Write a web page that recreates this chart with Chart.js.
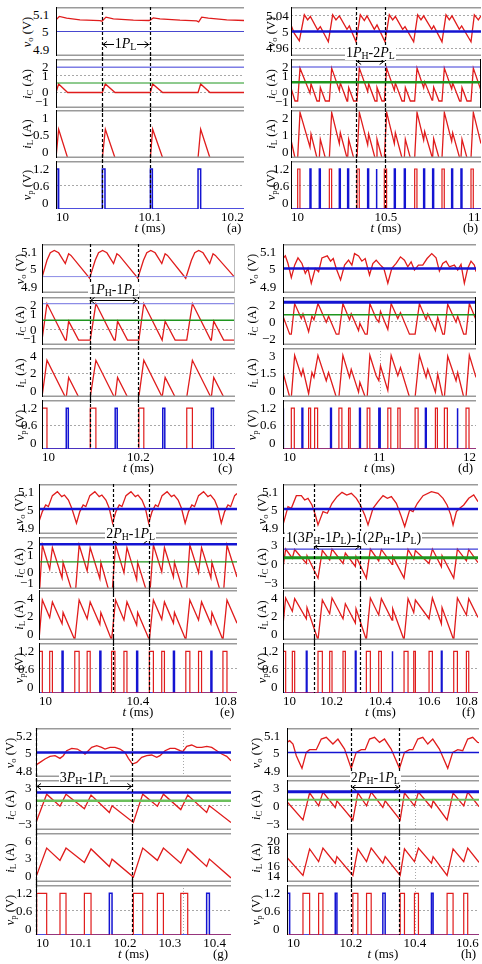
<!DOCTYPE html>
<html><head><meta charset="utf-8">
<script src="https://cdn.jsdelivr.net/npm/chart.js@4.4.1/dist/chart.umd.min.js"></script>
<style>
html,body{margin:0;padding:0;background:#fff;}
body{width:482px;height:964px;position:relative;overflow:hidden;font-family:"Liberation Serif","DejaVu Serif",serif;color:#000;}
canvas{position:absolute;}
.tk{position:absolute;font-size:13px;line-height:13px;white-space:nowrap;}
.ttl{position:absolute;font-size:12.5px;line-height:13px;white-space:nowrap;transform:translate(-50%,-50%) rotate(-90deg);}
.ann{position:absolute;font-size:14px;line-height:14px;white-space:nowrap;background:#fff;padding:0 1px;}
sub{font-size:70%;vertical-align:-0.25em;line-height:0;}
</style></head><body>
<script>
// ---------------- DATA ----------------
// (a)
const a_t_range=[10,10.2], a_t_ticks=[10,10.1,10.2], a_marks=[10.0489,10.0996];
const a_vo_range=[4.9,5.1], a_vo_ticks=[4.9,5,5.1], a_vo_ref=[5];
const a_vo=[[10,5.0475],[10.0035,5.0613],[10.0113,5.0544],[10.0255,5.0475],[10.0468,5.0448],[10.0489,5.042],[10.0532,5.0586],[10.061,5.0517],[10.0823,5.0462],[10.0989,5.0448],[10.1007,5.0475],[10.1035,5.0558],[10.1106,5.0517],[10.1319,5.0462],[10.1496,5.0434],[10.1518,5.0393],[10.155,5.0586],[10.1621,5.0544],[10.1816,5.0475],[10.2,5.0448]];
const a_iC_range=[-1,2], a_iC_ticks=[-1,0,1,2], a_iC_grid=[0,1], a_iC_ref=[1.5,0.53];
const a_iC=[[10,-0.05],[10.0028,0.47],[10.0124,-0.05],[10.0493,-0.05],[10.0525,0.47],[10.0628,-0.05],[10.1004,-0.05],[10.1028,0.47],[10.1135,-0.05],[10.1511,-0.05],[10.1539,0.47],[10.1638,-0.05],[10.2,-0.05]];
const a_iL_range=[0,1], a_iL_ticks=[0,0.5,1];
const a_iL=[[10,0],[10.0028,0.6],[10.0124,0],[10.0493,0],[10.0525,0.6],[10.0628,0],[10.1004,0],[10.1028,0.6],[10.1135,0],[10.1511,0],[10.1539,0.6],[10.1638,0],[10.2,0]];
const a_vpRed=[], a_vpBlue=[[10.0007,10.0028],[10.0493,10.0521],[10.1004,10.1025],[10.1511,10.1539]];

// (b)
const b_t_range=[10,11], b_t_ticks=[10,10.5,11], b_marks=[10.343,10.493];
const b_vo_range=[4.94,5.06], b_vo_ticks=[4.96,5,5.04], b_vo_grid=[4.96,5.04], b_vo_ref=[5];
const b_vo=[[10,5.0161],[10.0175,4.9954],[10.0439,4.9772],[10.0702,5.0409],[10.0877,5.0285],[10.1018,5.0367],[10.1404,5.0037],[10.1544,5.0119],[10.1965,4.9747],[10.2193,5.0409],[10.2368,5.0285],[10.2544,5.0384],[10.2947,5.0053],[10.307,5.0136],[10.3421,4.9747],[10.3649,5.0409],[10.386,5.0268],[10.4,5.0384],[10.4386,5.0053],[10.4526,5.0161],[10.4947,4.9747],[10.5175,5.0409],[10.5351,5.0285],[10.5491,5.0367],[10.5877,5.0053],[10.6,5.0119],[10.6456,4.9747],[10.6667,5.0409],[10.6842,5.0285],[10.6982,5.0384],[10.7404,5.0053],[10.7509,5.0136],[10.7947,4.9747],[10.8158,5.0409],[10.8333,5.0285],[10.8474,5.0384],[10.886,5.0053],[10.8982,5.0136],[10.9474,4.9747],[10.9649,5.0409],[10.986,5.0285],[11,5.0384]];
const b_iC_range=[-1,2], b_iC_ticks=[-1,0,1,2], b_iC_grid=[0,1], b_iC_ref=[1.51,0.58];
const b_iC=[[10,0.23],[10.0211,-0.57],[10.0351,-0.57],[10.0474,1.44],[10.1,-0.09],[10.1053,0.49],[10.1368,-0.57],[10.1491,-0.57],[10.1544,0.26],[10.1807,-0.57],[10.2018,-0.57],[10.214,1.44],[10.2544,0.07],[10.2596,0.54],[10.2947,-0.57],[10.2982,-0.57],[10.3035,0.26],[10.3298,-0.57],[10.3474,-0.57],[10.3596,1.44],[10.4035,0.01],[10.4088,0.49],[10.4421,-0.57],[10.4474,-0.57],[10.4526,0.26],[10.4789,-0.57],[10.4912,-0.57],[10.5035,1.44],[10.5439,0.07],[10.5491,0.54],[10.5842,-0.57],[10.5965,-0.57],[10.6018,0.26],[10.6281,-0.57],[10.6509,-0.57],[10.6632,1.44],[10.6982,0.23],[10.7035,0.6],[10.7421,-0.52],[10.7456,-0.52],[10.7509,0.28],[10.7789,-0.57],[10.7947,-0.57],[10.807,1.44],[10.8456,0.17],[10.8509,0.54],[10.8877,-0.57],[10.8947,-0.57],[10.9,0.26],[10.9263,-0.57],[10.9474,-0.57],[10.9596,1.44],[11,0.07]];
const b_iL_range=[0,2], b_iL_ticks=[0,1,2], b_iL_grid=[1];
const b_iL=[[10,0.75],[10.0211,0],[10.0351,0],[10.0474,1.9],[10.1,0.45],[10.1053,1.0],[10.1368,0],[10.1491,0],[10.1544,0.78],[10.1807,0],[10.2018,0],[10.214,1.9],[10.2544,0.6],[10.2596,1.05],[10.2947,0],[10.2982,0],[10.3035,0.78],[10.3298,0],[10.3474,0],[10.3596,1.9],[10.4035,0.55],[10.4088,1.0],[10.4421,0],[10.4474,0],[10.4526,0.78],[10.4789,0],[10.4912,0],[10.5035,1.9],[10.5439,0.6],[10.5491,1.05],[10.5842,0],[10.5965,0],[10.6018,0.78],[10.6281,0],[10.6509,0],[10.6632,1.9],[10.6982,0.75],[10.7035,1.1],[10.7421,0.05],[10.7456,0.05],[10.7509,0.8],[10.7789,0],[10.7947,0],[10.807,1.9],[10.8456,0.7],[10.8509,1.05],[10.8877,0],[10.8947,0],[10.9,0.78],[10.9263,0],[10.9474,0],[10.9596,1.9],[11,0.6]];
const b_vpRed=[[10.0351,10.0471],[10.2018,10.2138],[10.3474,10.3594],[10.4912,10.5032],[10.6509,10.6629],[10.7947,10.8067],[10.9474,10.9594]];
const b_vpBlue=[[10.1,10.105],[10.1491,10.1541],[10.2544,10.2594],[10.2982,10.3032],[10.4035,10.4085],[10.4474,10.4524],[10.5439,10.5489],[10.5965,10.6015],[10.6982,10.7032],[10.7456,10.7506],[10.8456,10.8506],[10.8947,10.8997]];

// (c)
const c_t_range=[10,10.4], c_t_ticks=[10,10.2,10.4], c_marks=[10.0986,10.1986];
const c_vo_range=[4.9,5.1], c_vo_ticks=[4.9,5,5.1], c_vo_ref=[4.967];
const c_vo=[[10,4.9628],[10.0103,5.0335],[10.0172,5.0641],[10.0255,5.0735],[10.0345,5.0641],[10.0483,5.0201],[10.0552,5.0601],[10.06,5.0535],[10.0986,4.9601],[10.1103,5.0335],[10.1172,5.0641],[10.1255,5.0735],[10.1345,5.0641],[10.1483,5.0201],[10.1552,5.0601],[10.16,5.0535],[10.1986,4.9601],[10.2103,5.0335],[10.2172,5.0641],[10.2255,5.0735],[10.2345,5.0641],[10.2483,5.0201],[10.2552,5.0601],[10.26,5.0535],[10.2979,4.9601],[10.3097,5.0335],[10.3166,5.0641],[10.3248,5.0735],[10.3338,5.0641],[10.3476,5.0201],[10.3545,5.0601],[10.3593,5.0535],[10.4,4.9628]];
const c_iC_range=[-1,2], c_iC_ticks=[-1,0,1,2], c_iC_grid=[0], c_iC_ref=[1.59,0.55];
const c_iC=[[10,-0.69],[10.0103,1.59],[10.0483,-0.69],[10.0503,-0.69],[10.0552,0.49],[10.0759,-0.69],[10.1,-0.69],[10.1117,1.59],[10.1497,-0.69],[10.1517,-0.69],[10.1566,0.49],[10.1772,-0.69],[10.2007,-0.69],[10.211,1.59],[10.249,-0.69],[10.2503,-0.69],[10.2552,0.49],[10.2759,-0.69],[10.3,-0.69],[10.3117,1.59],[10.3497,-0.69],[10.351,-0.69],[10.3559,0.49],[10.3766,-0.69],[10.4,-0.69]];
const c_iL_range=[0,4], c_iL_ticks=[0,2,4], c_iL_grid=[2];
const c_iL=[[10,0],[10.0103,3.0],[10.0483,0],[10.0503,0],[10.0552,1.6],[10.0759,0],[10.1,0],[10.1117,3.0],[10.1497,0],[10.1517,0],[10.1566,1.6],[10.1772,0],[10.2007,0],[10.211,3.0],[10.249,0],[10.2503,0],[10.2552,1.6],[10.2759,0],[10.3,0],[10.3117,3.0],[10.3497,0],[10.351,0],[10.3559,1.6],[10.3766,0],[10.4,0]];
const c_vpRed=[[10,10.0103],[10.1,10.1117],[10.2007,10.211],[10.3,10.3117]];
const c_vpBlue=[[10.0503,10.0545],[10.1517,10.1559],[10.2503,10.2545],[10.351,10.3552]];

// (d)
const d_t_range=[10,12], d_t_ticks=[10,11,12], d_marks=[];
const d_vo_range=[4.9,5.1], d_vo_ticks=[4.9,5,5.1], d_vo_ref=[5];
const d_vo=[[10,5.0407],[10.0241,5.0515],[10.0517,5.0205],[10.0862,4.9626],[10.1207,5.0138],[10.1552,5.0434],[10.1966,5.0205],[10.231,4.9801],[10.2586,5.0003],[10.2931,4.9397],[10.3345,5.0003],[10.369,4.9869],[10.4034,5.0434],[10.4586,5.0515],[10.4931,5.03],[10.5207,5.0407],[10.5517,5.0003],[10.5966,4.9532],[10.6379,5.0138],[10.6793,5.034],[10.7138,5.0138],[10.7414,5.0609],[10.7828,5.0515],[10.8172,5.03],[10.8517,5.0407],[10.8966,4.9734],[10.931,5.0205],[10.9655,5.034],[11.0103,5.0138],[11.0448,5.0003],[11.0862,4.9397],[11.1276,5.0003],[11.1724,5.0205],[11.2172,5.0475],[11.2586,5.034],[11.2931,5.0071],[11.3276,5.0273],[11.3621,4.9936],[11.4034,5.0138],[11.4483,5.0138],[11.4931,5.0407],[11.5414,5.0609],[11.5862,5.0434],[11.6207,4.9896],[11.6552,5.0205],[11.6897,5.03],[11.7241,5.0071],[11.7759,5.0138],[11.8103,4.9936],[11.8448,5.0165],[11.8793,4.9397],[11.9138,5.0003],[11.9483,5.03],[11.9828,5.0138],[12,4.9869]];
const d_iC_range=[-2,2], d_iC_ticks=[-2,0,2], d_iC_grid=[0], d_iC_ref=[1.57,0.52];
const d_iC=[[10,0.4],[10.069,-1.1],[10.0862,-1.1],[10.1207,1.45],[10.1897,0.2],[10.2069,0.6],[10.2655,-0.9],[10.3,0.4],[10.3207,0.1],[10.3621,1.45],[10.4483,-0.1],[10.4724,0.4],[10.5517,-1.1],[10.5793,-1.1],[10.6207,1.45],[10.6897,0.1],[10.7069,0.6],[10.7828,-0.8],[10.7966,-0.2],[10.8517,-1.1],[10.8724,-1.1],[10.9,1.45],[10.9655,0.2],[10.9931,-0.1],[11.0103,0.8],[11.0862,-0.7],[11.1207,1.45],[11.1897,0.2],[11.2172,0.7],[11.3103,-1.1],[11.369,-1.1],[11.4138,1.45],[11.4828,0.1],[11.5,0.6],[11.5793,-0.8],[11.6034,0.3],[11.6552,-1.1],[11.6724,-1.1],[11.7069,1.4],[11.7931,-0.1],[11.8103,0.4],[11.8724,-1.1],[11.8966,-1.1],[11.931,1.45],[12,0.1]];
const d_iL_range=[0,3], d_iL_ticks=[0,1.5,3], d_iL_grid=[1.5], d_iL_vgrid=[11];
const d_iL=[[10,1.5],[10.069,0],[10.0862,0],[10.1207,2.55],[10.1897,1.3],[10.2069,1.7],[10.2655,0.2],[10.3,1.5],[10.3207,1.2],[10.3621,2.55],[10.4483,1.0],[10.4724,1.5],[10.5517,0],[10.5793,0],[10.6207,2.55],[10.6897,1.2],[10.7069,1.7],[10.7828,0.3],[10.7966,0.9],[10.8517,0],[10.8724,0],[10.9,2.55],[10.9655,1.3],[10.9931,1.0],[11.0103,1.9],[11.0862,0.4],[11.1207,2.55],[11.1897,1.3],[11.2172,1.8],[11.3103,0],[11.369,0],[11.4138,2.55],[11.4828,1.2],[11.5,1.7],[11.5793,0.3],[11.6034,1.4],[11.6552,0],[11.6724,0],[11.7069,2.5],[11.7931,1.0],[11.8103,1.5],[11.8724,0],[11.8966,0],[11.931,2.55],[12,1.2]];
const d_vpRed=[[10.0862,10.1172],[10.2655,10.2862],[10.3276,10.3586],[10.5793,10.6103],[10.6793,10.6966],[10.8724,10.9],[11.0862,11.1172],[11.1897,11.2138],[11.369,11.4],[11.5793,11.6],[11.6724,11.7034],[11.8966,11.9276]];
const d_vpBlue=[[10,10.008],[10.1966,10.2052],[10.4931,10.5017],[10.7931,10.8017],[10.9931,11.0069],[11.4759,11.4845],[11.8034,11.812]];

// (e)
const e_t_range=[10,10.8], e_t_ticks=[10,10.4,10.8], e_marks=[10.2973,10.4432];
const e_vo_range=[4.9,5.1], e_vo_ticks=[4.9,5,5.1], e_vo_ref=[5];
const e_vo=[[10,4.95],[10.0135,4.9896],[10.027,5.0162],[10.0378,5.0096],[10.0541,5.0534],[10.0743,5.0693],[10.0919,5.0494],[10.1027,5.056],[10.1189,5.0361],[10.1324,5.0029],[10.1514,4.9432],[10.1649,4.9896],[10.1784,5.0162],[10.1892,5.0096],[10.2054,5.0534],[10.2257,5.0693],[10.2432,5.0494],[10.2541,5.056],[10.2703,5.0361],[10.2838,5.0029],[10.2973,4.9432],[10.3108,4.9896],[10.3243,5.0162],[10.3351,5.0096],[10.3514,5.0534],[10.3716,5.0693],[10.3892,5.0494],[10.4,5.056],[10.4162,5.0361],[10.4297,5.0029],[10.4432,4.9432],[10.4568,4.9896],[10.4703,5.0162],[10.4811,5.0096],[10.4973,5.0534],[10.5176,5.0693],[10.5351,5.0494],[10.5459,5.056],[10.5622,5.0361],[10.5757,5.0029],[10.5905,4.9432],[10.6041,4.9896],[10.6176,5.0162],[10.6284,5.0096],[10.6446,5.0534],[10.6649,5.0693],[10.6824,5.0494],[10.6932,5.056],[10.7095,5.0361],[10.723,5.0029],[10.7365,4.9432],[10.75,4.9896],[10.7635,5.0162],[10.7743,5.0096],[10.7905,5.0534],[10.8,5.062]];
const e_iC_range=[-1,2], e_iC_ticks=[-1,0,1,2], e_iC_grid=[0], e_iC_ref=[1.58,0.56];
const e_iC=[[10,-1.66],[10.0135,1.54],[10.0432,0.14],[10.0541,1.39],[10.0932,-0.36],[10.0973,0.54],[10.1446,-1.66],[10.1622,1.54],[10.1946,0.04],[10.2068,1.39],[10.2459,-0.41],[10.25,0.54],[10.2932,-1.66],[10.3095,1.54],[10.3432,-0.06],[10.3554,1.39],[10.3946,-0.46],[10.3986,0.54],[10.4459,-1.66],[10.4622,1.54],[10.4959,-0.01],[10.5068,1.39],[10.5432,-0.31],[10.5473,0.54],[10.5932,-1.66],[10.6095,1.54],[10.6446,-0.06],[10.6568,1.39],[10.6946,-0.36],[10.6986,0.54],[10.7432,-1.66],[10.7595,1.54],[10.8,-0.31]];
const e_iL_range=[0,4], e_iL_ticks=[0,2,4];
const e_iL=[[10,0],[10.0135,3.2],[10.0432,1.8],[10.0541,3.05],[10.0932,1.3],[10.0973,2.2],[10.1446,0],[10.1622,3.2],[10.1946,1.7],[10.2068,3.05],[10.2459,1.25],[10.25,2.2],[10.2932,0],[10.3095,3.2],[10.3432,1.6],[10.3554,3.05],[10.3946,1.2],[10.3986,2.2],[10.4459,0],[10.4622,3.2],[10.4959,1.65],[10.5068,3.05],[10.5432,1.35],[10.5473,2.2],[10.5932,0],[10.6095,3.2],[10.6446,1.6],[10.6568,3.05],[10.6946,1.3],[10.6986,2.2],[10.7432,0],[10.7595,3.2],[10.8,1.35]];
const e_vpRed=[[10,10.0135],[10.0432,10.0541],[10.1446,10.1622],[10.1946,10.2068],[10.2932,10.3068],[10.3432,10.3554],[10.4459,10.4622],[10.4959,10.5068],[10.5932,10.6095],[10.6446,10.6568],[10.7432,10.7595]];
const e_vpBlue=[[10.0932,10.0973],[10.2459,10.25],[10.3946,10.3986],[10.5432,10.5473],[10.6946,10.6986]];

// (f)
const f_t_range=[10,10.8], f_t_ticks=[10,10.2,10.4,10.6,10.8], f_marks=[10.1272,10.3174];
const f_vo_range=[4.9,5.1], f_vo_ticks=[4.9,5,5.1], f_vo_ref=[5];
const f_vo=[[10,4.9365],[10.0205,5.0096],[10.0342,5.0029],[10.0547,5.0534],[10.0752,5.0534],[10.0889,5.0361],[10.1026,5.0427],[10.119,5.0162],[10.1327,4.9764],[10.1436,4.9365],[10.1642,4.9896],[10.1819,4.983],[10.2011,5.0228],[10.2216,5.0494],[10.2421,5.0667],[10.2613,5.056],[10.2804,5.0627],[10.301,5.0427],[10.3174,5.0162],[10.3352,4.9764],[10.3488,4.9365],[10.3694,5.0029],[10.3899,5.0295],[10.4104,5.0534],[10.4282,5.0427],[10.4446,5.0494],[10.4651,5.0228],[10.4829,4.9764],[10.4993,4.9299],[10.5198,4.9963],[10.5335,4.9896],[10.5513,5.0228],[10.5746,5.0534],[10.6088,5.0693],[10.6361,5.0627],[10.6566,5.0427],[10.6731,5.0162],[10.6881,4.9764],[10.6977,4.9365],[10.7114,4.9896],[10.725,5.0029],[10.7415,5.0162],[10.762,5.0427],[10.7825,5.056],[10.8,5.0295]];
const f_iC_range=[-3,3], f_iC_ticks=[-3,0,3], f_iC_grid=[0], f_iC_ref=[1.61,0.6];
const f_iC=[[10,-0.55],[10.0109,1.61],[10.0383,0.55],[10.0479,1.56],[10.0958,-0.05],[10.0985,0.85],[10.1436,-1.75],[10.1614,1.45],[10.1915,0.35],[10.2011,1.61],[10.2462,-0.05],[10.2558,1.15],[10.2969,-0.4],[10.2996,0.75],[10.342,-1.75],[10.3584,1.61],[10.3926,0.25],[10.4036,1.56],[10.4473,-0.15],[10.4501,0.75],[10.4966,-1.75],[10.513,1.56],[10.5363,0.45],[10.5431,1.45],[10.5992,-0.05],[10.6129,1.61],[10.6498,-0.45],[10.6525,0.85],[10.7004,-1.75],[10.7155,1.61],[10.7524,0.25],[10.762,1.56],[10.8,0.05]];
const f_iL_range=[0,4], f_iL_ticks=[0,2,4], f_iL_grid=[2];
const f_iL=[[10,1.2],[10.0109,3.36],[10.0383,2.3],[10.0479,3.31],[10.0958,1.7],[10.0985,2.6],[10.1436,0],[10.1614,3.2],[10.1915,2.1],[10.2011,3.36],[10.2462,1.7],[10.2558,2.9],[10.2969,1.35],[10.2996,2.5],[10.342,0],[10.3584,3.36],[10.3926,2.0],[10.4036,3.31],[10.4473,1.6],[10.4501,2.5],[10.4966,0],[10.513,3.31],[10.5363,2.2],[10.5431,3.2],[10.5992,1.7],[10.6129,3.36],[10.6498,1.3],[10.6525,2.6],[10.7004,0],[10.7155,3.36],[10.7524,2.0],[10.762,3.31],[10.8,1.8]];
const f_vpRed=[[10,10.0109],[10.0383,10.0479],[10.1436,10.1614],[10.1915,10.2011],[10.2462,10.2558],[10.342,10.3584],[10.3926,10.4036],[10.4966,10.513],[10.5363,10.5431],[10.5992,10.6129],[10.7004,10.7155],[10.7524,10.762]];
const f_vpBlue=[[10.0958,10.0985],[10.2969,10.2996],[10.4473,10.4501],[10.6498,10.6525]];

// (g)
const g_t_range=[10,10.4365], g_t_ticks=[10,10.1,10.2,10.3,10.4], g_marks=[10,10.2158], g_vgrid=[10.328];
const g_vo_range=[4.8,5.2], g_vo_ticks=[4.8,5,5.2], g_vo_ref=[5];
const g_vo=[[10,4.8977],[10.0089,4.9194],[10.0202,4.9467],[10.0313,4.9684],[10.0426,4.9739],[10.0537,4.9521],[10.0612,4.9739],[10.0686,5.0147],[10.0799,5.0337],[10.0925,5.0283],[10.1023,5.0065],[10.1097,4.9875],[10.1149,5.0065],[10.1246,5.0419],[10.1359,5.0555],[10.147,5.0419],[10.1545,5.0283],[10.1657,5.0419],[10.1769,5.0419],[10.1881,5.0283],[10.1993,5.0011],[10.2068,4.9521],[10.2158,4.9058],[10.2255,4.9194],[10.2366,4.9602],[10.2478,4.9739],[10.259,4.9793],[10.2702,4.9602],[10.2776,4.9739],[10.2889,5.0147],[10.3001,5.0337],[10.3112,5.0337],[10.3225,5.0147],[10.3285,5.0065],[10.3374,5.05],[10.3486,5.061],[10.3598,5.0419],[10.371,5.0419],[10.3822,5.05],[10.3934,5.0419],[10.4046,5.0147],[10.4158,4.9875],[10.4269,4.9684],[10.4365,4.933]];
const g_iC_range=[-3,3], g_iC_ticks=[-3,0,3], g_iC_grid=[0], g_iC_ref=[1.5,0.5];
const g_iC=[[10,-2.1],[10.0239,1.3],[10.0537,-0.15],[10.0672,1.3],[10.1083,-0.45],[10.1232,1.2],[10.1642,-0.9],[10.1702,-0.1],[10.2179,-2.1],[10.2389,1.3],[10.2717,-0.15],[10.2852,1.3],[10.3241,-0.55],[10.3396,1.2],[10.382,-0.9],[10.3881,-0.1],[10.4365,-2.1]];
const g_iL_range=[0,6], g_iL_ticks=[0,3,6];
const g_iL=[[10,0.6],[10.0239,4.15],[10.0537,2.65],[10.0672,4.15],[10.1083,2.4],[10.1232,4.05],[10.1642,1.9],[10.1702,2.8],[10.2179,0.6],[10.2389,4.15],[10.2717,2.65],[10.2852,4.15],[10.3241,2.3],[10.3396,4.05],[10.382,1.9],[10.3881,2.8],[10.4365,0.5]];
const g_vpRed=[[10.0015,10.0239],[10.0537,10.0672],[10.1083,10.1232],[10.2179,10.2389],[10.2717,10.2852],[10.3241,10.3396]];
const g_vpBlue=[[10.1642,10.1702],[10.382,10.3881]];

// (h)
const h_t_range=[10,10.6], h_t_ticks=[10,10.2,10.4,10.6], h_marks=[10.2007,10.3515], h_vgrid=[10.4];
const h_vo_range=[4.9,5.1], h_vo_ticks=[4.9,5,5.1], h_vo_ref=[5];
const h_vo=[[10,5.0413],[10.0083,5.0482],[10.0187,5.0346],[10.0291,4.9869],[10.0468,4.9352],[10.0603,5.0005],[10.0707,5.0114],[10.0915,5.0114],[10.1071,5.055],[10.1227,5.0618],[10.1435,5.0346],[10.1591,5.055],[10.1799,5.0142],[10.2007,4.9352],[10.2163,5.0005],[10.2319,5.0114],[10.2444,5.0114],[10.2579,5.055],[10.2735,5.0618],[10.2891,5.0413],[10.3047,5.055],[10.3255,5.0142],[10.3515,4.9352],[10.3671,5.0005],[10.3827,5.0114],[10.3931,5.0114],[10.4087,5.055],[10.4243,5.0618],[10.4399,5.0346],[10.4555,5.055],[10.4763,5.0142],[10.5023,4.9352],[10.5179,5.0005],[10.5335,5.0114],[10.5491,5.0073],[10.5647,5.055],[10.5803,5.0618],[10.5959,5.0413],[10.6,5.04]];
const h_iC_range=[-3,3], h_iC_ticks=[-3,0,3], h_iC_grid=[0], h_iC_ref=[1.6,0.64];
const h_iC=[[10,0.4],[10.0499,-1.8],[10.0707,1.45],[10.0988,-0.1],[10.1123,1.55],[10.1508,-0.3],[10.156,0.5],[10.2059,-1.8],[10.2215,1.45],[10.2486,-0.1],[10.2631,1.55],[10.2995,-0.3],[10.3068,0.5],[10.3536,-1.8],[10.3671,1.45],[10.3983,-0.1],[10.4108,1.55],[10.4514,-0.3],[10.4566,0.5],[10.5003,-1.8],[10.519,1.45],[10.5523,-0.1],[10.5647,1.55],[10.6,-0.2]];
const h_iL_range=[14,20], h_iL_ticks=[14,16,18,20], h_iL_grid=[16];
const h_iL=[[10,17.0],[10.0499,14.8],[10.0707,18.05],[10.0988,16.5],[10.1123,18.15],[10.1508,16.3],[10.156,17.1],[10.2059,14.8],[10.2215,18.05],[10.2486,16.5],[10.2631,18.15],[10.2995,16.3],[10.3068,17.1],[10.3536,14.8],[10.3671,18.05],[10.3983,16.5],[10.4108,18.15],[10.4514,16.3],[10.4566,17.1],[10.5003,14.8],[10.519,18.05],[10.5523,16.5],[10.5647,18.15],[10.6,16.4]];
const h_vpRed=[[10.0499,10.0707],[10.0988,10.1123],[10.2059,10.2215],[10.2486,10.2631],[10.3536,10.3671],[10.3983,10.4108],[10.5003,10.519],[10.5523,10.5647]];
const h_vpBlue=[[10.001,10.0083],[10.1508,10.156],[10.2995,10.3068],[10.4514,10.4566]];

const vp_range=[0,1.2], vp_ticks=[0,0.6,1.2], vp_grid=[0.6], vp_level=1.0;

// ---------------- STYLE / LAYOUT ----------------
const RED='#e01c1c', BLUE='#1414d2', GREEN='#1e961e', LGREEN='#6cbf5c', LAV='#8c8ce6';
const M=6;
const ROW1=[[7,56],[59,108],[110,158],[161,209]];
const ROW2=[[244,293],[297,345],[348,397],[400,449]];
const ROW3=[[484,534],[537,589],[590,640],[643,693]];
const ROW4=[[728,777],[780,830],[833,882],[885,935]];
const TITLES=['<i>v</i><sub>o</sub> (V)','<i>i</i><sub>C</sub> (A)','<i>i</i><sub>L</sub> (A)','<i>v</i><sub>p</sub> (V)'];

function refs(vals, cols, ws){ return vals.map((v,i)=>({v, color:cols[i], w:ws[i]})); }

const PANELS=[
 {L:56,R:244,rows:ROW1,titleX:27,gap:7,tr:a_t_range,tt:a_t_ticks,marks:a_marks,letter:'(a)',
  subs:[{range:a_vo_range,ticks:a_vo_ticks,data:a_vo,refs:refs(a_vo_ref,['#4848d0'],[1])},
        {range:a_iC_range,ticks:a_iC_ticks,grid:a_iC_grid,data:a_iC,refs:refs(a_iC_ref,['#3c3cd8',GREEN],[1,1])},
        {range:a_iL_range,ticks:a_iL_ticks,data:a_iL},
        {range:vp_range,ticks:vp_ticks,grid:vp_grid,red:a_vpRed,blue:a_vpBlue,blueTop:true}],
  ann:{html:'1<i>P</i><sub>L</sub>',sub:0,ay:44,ty:44}},
 {L:291,R:481,rows:ROW1,titleX:270.5,gap:2,tr:b_t_range,tt:b_t_ticks,marks:b_marks,letter:'(b)',
  subs:[{range:b_vo_range,ticks:b_vo_ticks,grid:b_vo_grid,data:b_vo,refs:refs(b_vo_ref,[BLUE],[2.5])},
        {range:b_iC_range,ticks:b_iC_ticks,grid:b_iC_grid,data:b_iC,refs:refs(b_iC_ref,['#3c3cd8',GREEN],[1,2.5]),right:'#000'},
        {range:b_iL_range,ticks:b_iL_ticks,grid:b_iL_grid,data:b_iL},
        {range:vp_range,ticks:vp_ticks,grid:vp_grid,red:b_vpRed,blue:b_vpBlue,blueTop:true}],
  ann:{html:'1<i>P</i><sub>H</sub>-2<i>P</i><sub>L</sub>',sub:1,ay:61,ty:53}},
 {L:42,R:235,rows:ROW2,titleX:20,gap:5,tr:c_t_range,tt:c_t_ticks,marks:c_marks,letter:'(c)',
  subs:[{range:c_vo_range,ticks:c_vo_ticks,data:c_vo,refs:refs(c_vo_ref,[LAV],[1]),right:'#bbb'},
        {range:c_iC_range,ticks:c_iC_ticks,grid:c_iC_grid,data:c_iC,refs:refs(c_iC_ref,[LAV,GREEN],[1.2,1.5]),right:'#bbb'},
        {range:c_iL_range,ticks:c_iL_ticks,grid:c_iL_grid,data:c_iL},
        {range:vp_range,ticks:vp_ticks,grid:vp_grid,red:c_vpRed,blue:c_vpBlue,blueTop:true}],
  ann:{html:'1<i>P</i><sub>H</sub>-1<i>P</i><sub>L</sub>',sub:1,ay:300,ty:290}},
 {L:283,R:476,rows:ROW2,titleX:251.7,gap:7,tr:d_t_range,tt:d_t_ticks,marks:d_marks,letter:'(d)',
  subs:[{range:d_vo_range,ticks:d_vo_ticks,data:d_vo,refs:refs(d_vo_ref,[BLUE],[2.5])},
        {range:d_iC_range,ticks:d_iC_ticks,grid:d_iC_grid,data:d_iC,refs:refs(d_iC_ref,[BLUE,GREEN],[3,1.5]),right:'#000'},
        {range:d_iL_range,ticks:d_iL_ticks,grid:d_iL_grid,vgrid:d_iL_vgrid,data:d_iL},
        {range:vp_range,ticks:vp_ticks,grid:vp_grid,red:d_vpRed,blue:d_vpBlue}]},
 {L:39,R:237,rows:ROW3,titleX:18.5,gap:5,tr:e_t_range,tt:e_t_ticks,marks:e_marks,letter:'(e)',
  subs:[{range:e_vo_range,ticks:e_vo_ticks,data:e_vo,refs:refs(e_vo_ref,[BLUE],[2.5])},
        {range:e_iC_range,ticks:e_iC_ticks,grid:e_iC_grid,data:e_iC,refs:refs(e_iC_ref,[BLUE,GREEN],[2.5,1.2])},
        {range:e_iL_range,ticks:e_iL_ticks,data:e_iL},
        {range:vp_range,ticks:vp_ticks,grid:vp_grid,red:e_vpRed,blue:e_vpBlue}],
  ann:{html:'2<i>P</i><sub>H</sub>-1<i>P</i><sub>L</sub>',sub:1,ay:540,ty:534}},
 {L:283,R:478,rows:ROW3,titleX:261.5,gap:5,tr:f_t_range,tt:f_t_ticks,marks:f_marks,letter:'(f)',
  subs:[{range:f_vo_range,ticks:f_vo_ticks,data:f_vo,refs:refs(f_vo_ref,[BLUE],[2.5])},
        {range:f_iC_range,ticks:f_iC_ticks,grid:f_iC_grid,data:f_iC,refs:refs(f_iC_ref,['#3c3cd8',GREEN],[1.2,3])},
        {range:f_iL_range,ticks:f_iL_ticks,grid:f_iL_grid,data:f_iL},
        {range:vp_range,ticks:vp_ticks,grid:vp_grid,red:f_vpRed,blue:f_vpBlue}],
  ann:{html:'1(3<i>P</i><sub>H</sub>-1<i>P</i><sub>L</sub>)-1(2<i>P</i><sub>H</sub>-1<i>P</i><sub>L</sub>)',sub:1,ay:546,ty:537.5,left:true}},
 {L:36,R:231,rows:ROW4,titleX:10,gap:4,tr:g_t_range,tt:g_t_ticks,marks:g_marks,letter:'(g)',
  subs:[{range:g_vo_range,ticks:g_vo_ticks,vgrid:g_vgrid,data:g_vo,refs:refs(g_vo_ref,[BLUE],[2.5])},
        {range:g_iC_range,ticks:g_iC_ticks,grid:g_iC_grid,data:g_iC,refs:refs(g_iC_ref,[BLUE,LGREEN],[2.5,2.5])},
        {range:g_iL_range,ticks:g_iL_ticks,data:g_iL},
        {range:vp_range,ticks:vp_ticks,grid:vp_grid,vgrid:g_vgrid,red:g_vpRed,blue:g_vpBlue}],
  ann:{html:'3<i>P</i><sub>H</sub>-1<i>P</i><sub>L</sub>',sub:1,ay:786,ty:778}},
 {L:287,R:479,rows:ROW4,titleX:256,gap:7,tr:h_t_range,tt:h_t_ticks,marks:h_marks,letter:'(h)',
  subs:[{range:h_vo_range,ticks:h_vo_ticks,data:h_vo,refs:refs(h_vo_ref,[BLUE],[1.5])},
        {range:h_iC_range,ticks:h_iC_ticks,grid:h_iC_grid,vgrid:h_vgrid,data:h_iC,refs:refs(h_iC_ref,[BLUE,LGREEN],[3,2])},
        {range:h_iL_range,ticks:h_iL_ticks,grid:h_iL_grid,vgrid:h_vgrid,data:h_iL},
        {range:vp_range,ticks:vp_ticks,grid:vp_grid,vgrid:h_vgrid,red:h_vpRed,blue:h_vpBlue}],
  ann:{html:'2<i>P</i><sub>H</sub>-1<i>P</i><sub>L</sub>',sub:1,ay:787,ty:778}}
];

// ---------------- HELPERS ----------------
function fmt(v){ return (v<0?'\u2212':'')+String(Math.abs(v)); }
function pulseLine(list, h, tr){
  const pts=[{x:tr[0],y:0}];
  list.forEach(([s,e])=>{pts.push({x:s,y:0},{x:s,y:h},{x:e,y:h},{x:e,y:0});});
  pts.push({x:tr[1],y:0});
  return pts;
}
function mkText(html, cls){ const d=document.createElement('div'); d.className=cls; d.innerHTML=html; document.body.appendChild(d); return d; }
function place(d,x,y,ax,ay){ const w=d.offsetWidth,h=d.offsetHeight; d.style.left=(x-ax*w)+'px'; d.style.top=(y-ay*h)+'px'; }
function clamp(v,a,b){ return Math.max(a,Math.min(b,v)); }

function deco(c){
  function ln(ctx,x1,y1,x2,y2){ctx.beginPath();ctx.moveTo(x1,y1);ctx.lineTo(x2,y2);ctx.stroke();}
  return {id:'deco',
    beforeDatasetsDraw(ch){
      const {ctx,chartArea:a,scales:{x,y}}=ch; ctx.save();
      ctx.lineWidth=1; ctx.strokeStyle='#a8a8a8'; ctx.setLineDash([2,2]);
      (c.grid||[]).forEach(v=>{const p=Math.round(y.getPixelForValue(v))+0.5; ln(ctx,a.left,p,a.right,p);});
      ctx.setLineDash([1,2]);
      (c.vgrid||[]).forEach(v=>{const p=Math.round(x.getPixelForValue(v))+0.5; ln(ctx,p,a.top,p,a.bottom);});
      ctx.restore();
    },
    afterDatasetsDraw(ch){
      const {ctx,chartArea:a,scales:{x},height}=ch; ctx.save(); ctx.setLineDash([]);
      ctx.strokeStyle='#9a9a9a'; ctx.lineWidth=1.5;
      ln(ctx,a.left,a.top+0.75,a.right,a.top+0.75);
      if(!c.last) ln(ctx,a.left,a.bottom-0.75,a.right,a.bottom-0.75);
      if(c.right){ctx.strokeStyle=c.right; ctx.lineWidth=1; ln(ctx,a.right-0.5,a.top,a.right-0.5,a.bottom);}
      ctx.strokeStyle='#000'; ctx.lineWidth=1; ln(ctx,a.left+0.5,a.top,a.left+0.5,a.bottom);
      ctx.setLineDash([3,2]); ctx.lineWidth=1.2;
      (c.marks||[]).forEach(v=>{const p=Math.round(x.getPixelForValue(v))+0.5; ln(ctx,p,c.first?a.top:0,p,c.last?a.bottom:height);});
      if(c.arrow){
        const x1=x.getPixelForValue(c.arrow.t1), x2=x.getPixelForValue(c.arrow.t2), yy=Math.round(a.top+c.arrow.dy)+0.5;
        ctx.setLineDash([]); ctx.lineWidth=1; ctx.strokeStyle='#000';
        ln(ctx,x1,yy,x2,yy);
        ctx.beginPath(); ctx.moveTo(x1+5,yy-3); ctx.lineTo(x1+1,yy); ctx.lineTo(x1+5,yy+3); ctx.stroke();
        ctx.beginPath(); ctx.moveTo(x2-5,yy-3); ctx.lineTo(x2-1,yy); ctx.lineTo(x2-5,yy+3); ctx.stroke();
      }
      ctx.restore();
    }};
}

// ---------------- BUILD ----------------
PANELS.forEach(P=>{
  const charts=[];
  P.subs.forEach((S,k)=>{
    const [top,bot]=P.rows[k];
    const W=P.R-P.L+2*M, H=bot-top+2*M;
    const cv=document.createElement('canvas');
    cv.width=W; cv.height=H;
    cv.style.left=(P.L-M)+'px'; cv.style.top=(top-M)+'px'; cv.style.width=W+'px'; cv.style.height=H+'px';
    document.body.appendChild(cv);
    const ds=[];
    (S.refs||[]).forEach(r=>ds.push({data:[{x:P.tr[0],y:r.v},{x:P.tr[1],y:r.v}],borderColor:r.color,borderWidth:r.w,order:1}));
    if(S.data) ds.push({data:S.data.map(p=>({x:p[0],y:p[1]})),borderColor:RED,borderWidth:1.3,order:2});
    if(S.red){
      const redDs={data:pulseLine(S.red,vp_level,P.tr),borderColor:RED,borderWidth:1.2,order:S.blueTop?4:3};
      const blueDs={data:pulseLine(S.blue,vp_level,P.tr),borderColor:BLUE,borderWidth:1.5,order:S.blueTop?3:4};
      if(S.red.length) ds.push(redDs);
      if(S.blue.length) ds.push(blueDs);
    }
    ds.forEach(d=>{d.pointRadius=0;d.fill=false;d.tension=0;d.borderJoinStyle='miter';});
    const cfg={grid:S.grid,vgrid:S.vgrid,marks:P.marks,first:k===0,last:k===3,right:S.right};
    if(P.ann && P.ann.sub===k && P.marks.length===2) cfg.arrow={t1:P.marks[0],t2:P.marks[1],dy:P.ann.ay-top};
    const ch=new Chart(cv,{type:'line',data:{datasets:ds},
      options:{responsive:false,animation:false,events:[],devicePixelRatio:1,layout:{padding:M},
        scales:{x:{type:'linear',min:P.tr[0],max:P.tr[1],display:false},y:{type:'linear',min:S.range[0],max:S.range[1],display:false}},
        plugins:{legend:{display:false},tooltip:{enabled:false}}},
      plugins:[deco(cfg)]});
    charts.push(ch);
    S.ticks.forEach(v=>{
      const d=mkText(fmt(v),'tk'); const h=d.offsetHeight;
      const py=ch.scales.y.getPixelForValue(v)+top-M;
      place(d,P.L-P.gap,clamp(py,top+h/2+0.5,bot-h/2-0.5),1,0.5);
    });
    const t=mkText(TITLES[k],'ttl'); t.style.left=P.titleX+'px'; t.style.top=((top+bot)/2)+'px';
  });
  const last=charts[3], bot=P.rows[3][1];
  P.tt.forEach(v=>{
    const d=mkText(fmt(v),'tk'); const w=d.offsetWidth;
    const px=last.scales.x.getPixelForValue(v)+P.L-M;
    place(d,clamp(px,P.L+w/2,P.R-w/2),bot+7.5,0.5,0.5);
  });
  place(mkText('<i>t</i> (ms)','tk'),(P.L+P.R)/2,bot+18,0.5,0.5);
  place(mkText(P.letter,'tk'),P.R-3,bot+18,1,0.5);
  if(P.ann){
    const ch=charts[P.ann.sub];
    const x1=ch.scales.x.getPixelForValue(P.marks[0])+P.L-M, x2=ch.scales.x.getPixelForValue(P.marks[1])+P.L-M;
    const d=mkText(P.ann.html,'ann');
    if(P.ann.left) place(d,P.L+2,P.ann.ty,0,0.5); else place(d,(x1+x2)/2,P.ann.ty,0.5,0.5);
  }
});
</script>
</body></html>
